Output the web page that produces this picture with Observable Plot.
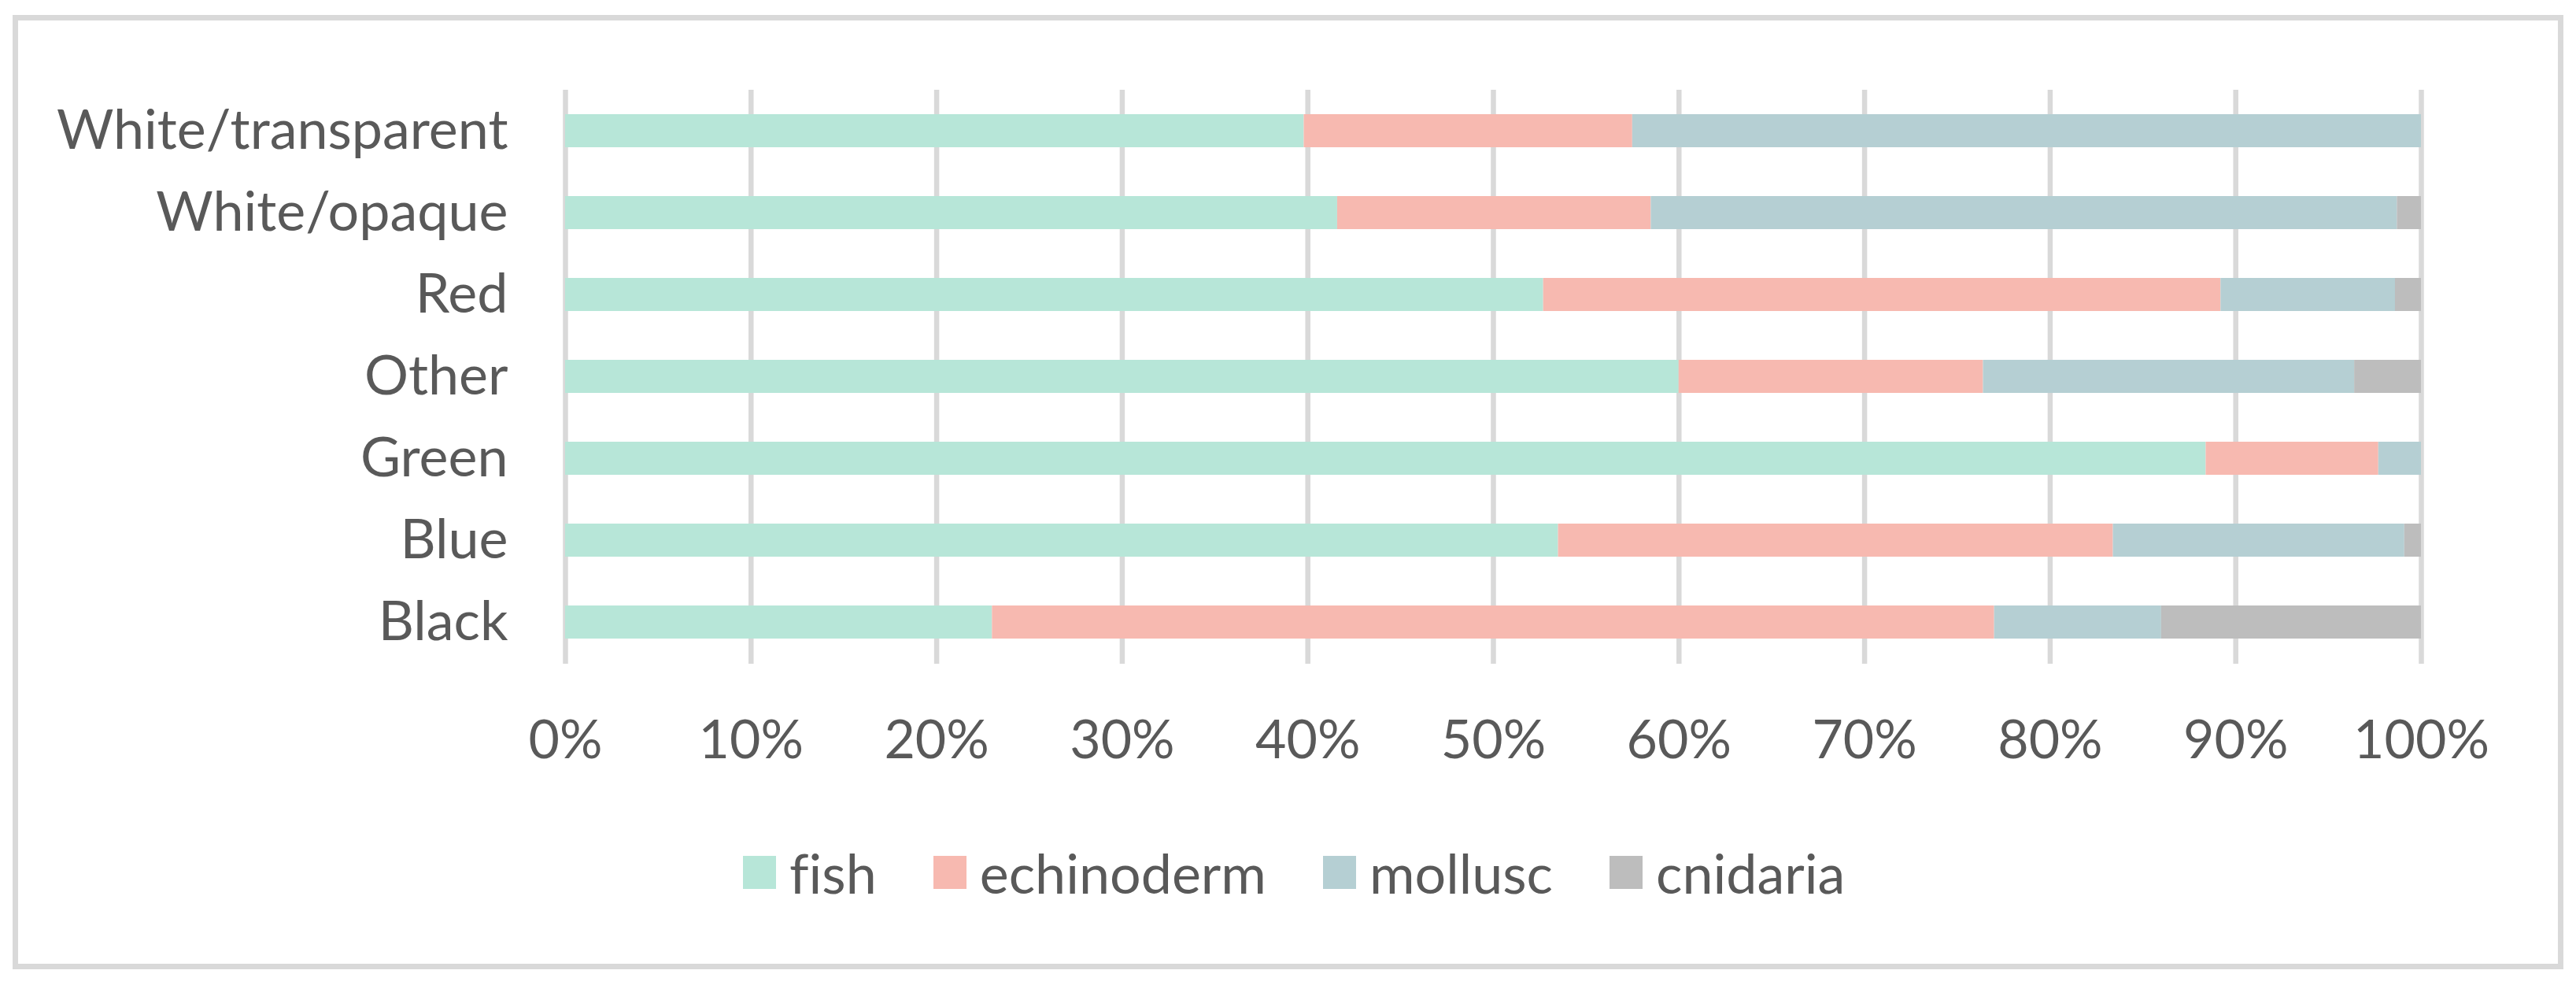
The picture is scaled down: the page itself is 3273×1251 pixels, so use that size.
<!DOCTYPE html>
<html>
<head>
<meta charset="utf-8">
<script src="https://cdn.jsdelivr.net/npm/d3@7"></script>
<script src="https://cdn.jsdelivr.net/npm/@observablehq/plot@0.6"></script>
<style>
  body { margin: 0; background: #ffffff; }
  #wrap { position: relative; width: 3273px; height: 1251px; overflow: hidden; font-family: Lato, "Open Sans", sans-serif; color: #595959; background: #fff; font-variant-ligatures: none; }
  #frame { position: absolute; left: 16px; top: 19px; width: 3241px; height: 1212px; border: 7px solid #d9d9d9; box-sizing: border-box; }
  #chart { position: absolute; left: 0; top: 0; }
  #legend { position: absolute; left: 0; top: 1072px; width: 3273px; display: flex; justify-content: flex-start; padding-left: 944px; box-sizing: border-box; }
  .item { display: flex; align-items: center; margin-right: 72px; }
  .sw { width: 42px; height: 42px; margin-right: 17px; }
  .lab { font-size: 70px; line-height: 72px; }
</style>
</head>
<body>
<div id="wrap">
  <div id="frame"></div>
  <div id="chart"></div>
  <div id="legend"></div>
</div>
<script>
// Categories, top to bottom
const categories = ["White/transparent", "White/opaque", "Red", "Other", "Green", "Blue", "Black"];
// Series (stack order, left to right)
const series = ["fish", "echinoderm", "mollusc", "cnidaria"];
const colors = ["#b7e6d8", "#f7b9b0", "#b5cfd3", "#bdbdbd"];
// Percent shares per category (same order as categories)
const fish       = [39.8, 41.6, 52.7, 60.0, 88.4, 53.5, 23.0];
const echinoderm = [17.7, 16.9, 36.5, 16.4,  9.3, 29.9, 54.0];
const mollusc    = [42.5, 40.2,  9.4, 20.0,  2.3, 15.7,  9.0];
const cnidaria   = [ 0.0,  1.3,  1.4,  3.6,  0.0,  0.9, 14.0];
const xTicks = [0, 0.1, 0.2, 0.3, 0.4, 0.5, 0.6, 0.7, 0.8, 0.9, 1.0];

const valuesBySeries = {fish, echinoderm, mollusc, cnidaria};
const data = [];
categories.forEach((c, i) => {
  const total = series.reduce((s, k) => s + valuesBySeries[k][i], 0);
  series.forEach(k => data.push({category: c, series: k, value: valuesBySeries[k][i] / total}));
});

const chart = Plot.plot({
  width: 3273,
  height: 1000,
  marginLeft: 718,
  marginRight: 197,
  marginTop: 114,
  marginBottom: 157,
  style: {fontFamily: "Lato, 'Open Sans', sans-serif", fontSize: "68px", color: "#595959", background: "transparent", overflow: "visible"},
  x: {domain: [0, 1], ticks: xTicks, tickFormat: d3.format(".0%"), tickSize: 0, tickPadding: 71, label: null},
  y: {domain: categories, paddingInner: 0.592, paddingOuter: 0.296, tickSize: 0, tickPadding: 73, label: null},
  color: {domain: series, range: colors},
  marks: [
    Plot.gridX(xTicks, {stroke: "#d9d9d9", strokeWidth: 6.5, strokeOpacity: 1}),
    Plot.barX(data, Plot.stackX({x: "value", y: "category", z: "series", fill: "series", order: series})),
    Plot.axisX({ticks: xTicks, tickFormat: d3.format(".0%"), tickSize: 0, tickPadding: 71, fontSize: 68, label: null}),
    Plot.axisY({tickSize: 0, tickPadding: 73, fontSize: 70, label: null})
  ]
});
document.getElementById("chart").appendChild(chart);

const legend = document.getElementById("legend");
series.forEach((s, i) => {
  const item = document.createElement("div");
  item.className = "item";
  const sw = document.createElement("div");
  sw.className = "sw";
  sw.style.background = colors[i];
  const lab = document.createElement("span");
  lab.className = "lab";
  lab.textContent = s;
  item.appendChild(sw);
  item.appendChild(lab);
  legend.appendChild(item);
});
</script>
</body>
</html>
